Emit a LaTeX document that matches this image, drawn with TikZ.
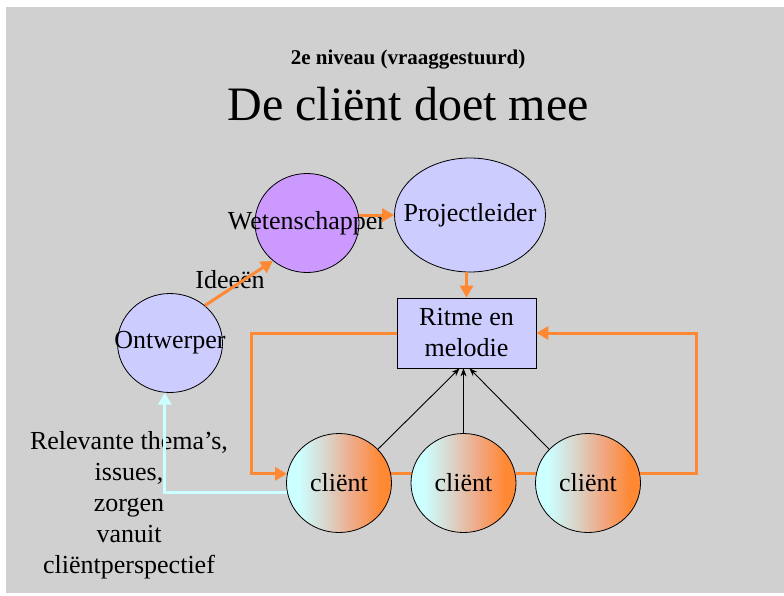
\documentclass[tikz,border=0pt]{standalone}
\usepackage{fontspec}
\setmainfont{Liberation Serif}
\usetikzlibrary{shapes.geometric,arrows.meta,backgrounds}

\definecolor{slidegray}{HTML}{D0D0D0}
\definecolor{lila}{HTML}{CCCCFF}
\definecolor{paars}{HTML}{CC99FF}
\definecolor{oranje}{HTML}{FF8833}
\definecolor{lichtcyaan}{HTML}{CCFFFF}
\definecolor{clmid}{HTML}{DAD4CA}
\definecolor{clroze}{HTML}{F0A884}

\pgfdeclarehorizontalshading{clientshade}{100bp}{color(0bp)=(lichtcyaan); color(31bp)=(lichtcyaan); color(44bp)=(clmid); color(57bp)=(clroze); color(70bp)=(oranje); color(100bp)=(oranje)}

\newcommand{\tekstfont}{\fontsize{26}{31}\selectfont}
\newcommand{\vast}[1]{\raisebox{-2.5pt}{\makebox[0pt]{#1}}}

\begin{document}
\begin{tikzpicture} [x=1pt, y=-1pt,
  rol/.style={ellipse, draw, line width=0.8pt, fill=lila, inner sep=0pt, font=\tekstfont},
  klant/.style={ellipse, draw, line width=0.8pt, shading=clientshade, inner sep=0pt, minimum width=105pt, minimum height=99pt, font=\tekstfont},
  flow/.style={draw=oranje, line width=3pt, -{Triangle[length=12pt,width=13pt]}},
  terug/.style={draw=lichtcyaan, line width=3pt, -{Triangle[length=12pt,width=13pt]}},
  inbreng/.style={draw, line width=0.9pt, -{Stealth[length=8pt,width=6pt]}}]

\useasboundingbox (0,0) rectangle (784,595);

\node [font=\fontsize{21}{25}\selectfont\bfseries] (niveau) at (408,60) {2e niveau (vraaggestuurd)};
\node [font=\fontsize{48}{56}\selectfont] (titel) at (408,104) {De cliënt doet mee};

\node [rol, fill=paars, minimum width=104pt, minimum height=99pt] (wet) at (307,223) {\vast{Wetenschapper}};
\node [rol, minimum width=151pt, minimum height=114pt] (proj) at (470,215) {\vast{Projectleider}};
\node [rol, minimum width=105pt, minimum height=99pt] (ont) at (170,343) {\vast{Ontwerper}};
\node [draw, line width=0.8pt, fill=lila, align=center, minimum width=139pt, minimum height=70pt, font=\tekstfont] (ritme) at (466.5,333) {Ritme en\\melodie};

\node [klant] (c1) at (339,483) {\vast{cliënt}};
\node [klant] (c2) at (463.5,483) {\vast{cliënt}};
\node [klant] (c3) at (588,483) {\vast{cliënt}};

\node [font=\tekstfont] (ideeen) at (230,280) {Ideeën};
\node [font=\tekstfont, align=center] (thema) at (129,505) {Relevante thema’s,\\issues,\\zorgen\\vanuit\\cliëntperspectief};

\begin{scope}[on background layer]
\fill [slidegray] (6,7) rectangle (784,593);
\draw [oranje, line width=3pt] (c1.10) -- (c2.170);
\draw [oranje, line width=3pt] (c2.10) -- (c3.170);
\end{scope}

\draw [flow] (ont.47) -- (wet.228);
\draw [flow] (proj.west -| wet.east) -- (proj.west);
\draw [flow] (proj.south -| ritme.north) -- (ritme.north);
\draw [flow] (ritme.west) -- ++(-145,0) |- (c1.170);
\draw [flow] (c3.10) -- ++(56,0) |- (ritme.east);
\draw [terug] (c1.190) -| (ont.264);

\draw [inbreng] (c1.41) -- ([xshift=-7pt]ritme.south);
\draw [inbreng] (c2.north) -- (c2 |- ritme.south);
\draw [inbreng] (c3.139) -- ([xshift=3pt]ritme.south);

\end{tikzpicture}
\end{document}
